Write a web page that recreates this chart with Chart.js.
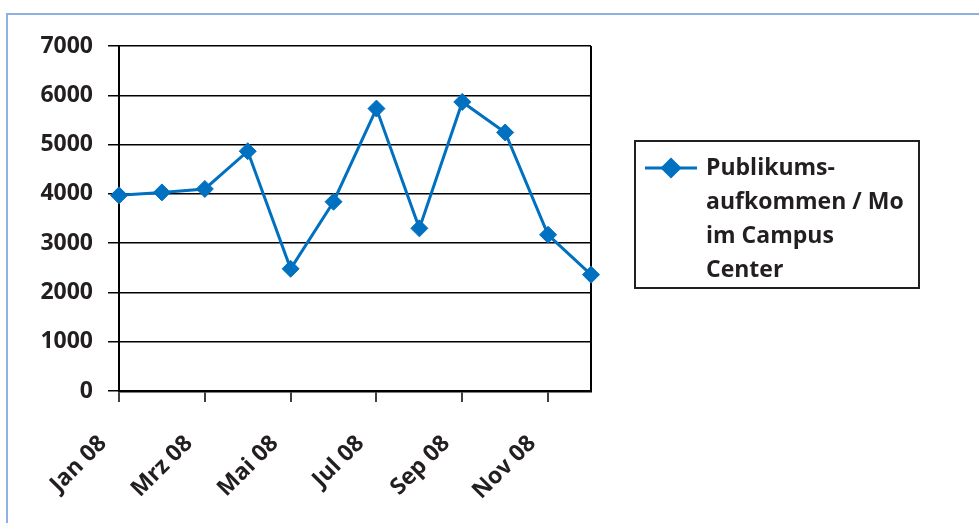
<!DOCTYPE html>
<html>
<head>
<meta charset="utf-8">
<script src="https://cdn.jsdelivr.net/npm/chart.js@4"></script>
<style>
  html, body { margin: 0; padding: 0; background: #fff; }
  #wrap { position: relative; width: 979px; height: 523px; overflow: hidden; }
  #frame { position: absolute; left: 6px; top: 13px; width: 990px; height: 540px;
           border-top: 2px solid #8db2e2; border-left: 2px solid #8db2e2; box-sizing: border-box; }
  canvas { position: absolute; left: 0; top: 0; }
</style>
</head>
<body>
<div id="wrap">
  <div id="frame"></div>
  <canvas id="chart" width="979" height="523"></canvas>
</div>
<script>
const months = ['Jan 08', 'Feb 08', 'Mrz 08', 'Apr 08', 'Mai 08', 'Jun 08',
                'Jul 08', 'Aug 08', 'Sep 08', 'Okt 08', 'Nov 08', 'Dez 08'];
const visitors = [3970, 4030, 4100, 4865, 2480, 3840, 5730, 3300, 5865, 5245, 3170, 2360];
const seriesLabel = ['Publikums-', 'aufkommen / Mo', 'im Campus', 'Center'];
const yTicks = { min: 0, max: 7000, step: 1000 };

const ink = '#231f20';
const blue = '#0070c0';
const fontFamily = '"Open Sans", sans-serif';

// legend box to the right of the plot, drawn by hand because the label wraps
const boxLegend = {
    id: 'boxLegend',
    afterDraw(chart) {
        const ctx = chart.ctx;
        const area = chart.chartArea;
        const ds = chart.data.datasets[0];
        const x = area.right + 44, y = 141, w = 284, h = 147;
        ctx.save();
        ctx.strokeStyle = ink;
        ctx.lineWidth = 2;
        ctx.strokeRect(x, y, w, h);
        // sample line + marker
        const my = y + 27;
        ctx.strokeStyle = ds.borderColor;
        ctx.lineWidth = 3;
        ctx.beginPath();
        ctx.moveTo(x + 10, my);
        ctx.lineTo(x + 62, my);
        ctx.stroke();
        Chart.helpers.drawPoint(ctx, { pointStyle: 'rectRot', radius: 8.5, borderWidth: 1 }, x + 36, my);
        ctx.fillStyle = ds.borderColor;
        ctx.fill();
        // text
        ctx.fillStyle = ink;
        ctx.font = 'bold 23px ' + fontFamily;
        ctx.textBaseline = 'middle';
        ds.label.forEach((line, i) => ctx.fillText(line, x + 71, my + i * 34));
        ctx.restore();
    }
};

document.fonts.load('bold 23px "Open Sans"').finally(() => {
    new Chart(document.getElementById('chart'), {
        type: 'line',
        data: {
            labels: months,
            datasets: [{
                label: seriesLabel,
                data: visitors,
                borderColor: blue,
                backgroundColor: blue,
                borderWidth: 3,
                pointStyle: 'rectRot',
                pointRadius: 8.5,
                pointBorderWidth: 1,
                pointBackgroundColor: blue,
                pointBorderColor: blue,
                tension: 0
            }]
        },
        options: {
            responsive: false,
            animation: false,
            layout: { padding: { top: 46, right: 388, left: 0, bottom: 0 } },
            plugins: { legend: { display: false }, tooltip: { enabled: false } },
            scales: {
                x: {
                    offset: false,
                    afterFit: s => { s.height = 132; },
                    border: { display: true, color: '#000', width: 2.5 },
                    grid: {
                        drawOnChartArea: true,
                        drawTicks: true,
                        tickLength: 11,
                        lineWidth: 2,
                        color: c => c.index === months.length - 1 ? '#000' : 'rgba(0,0,0,0)',
                        tickColor: c => (c.index % 2 === 0 && c.index < months.length - 1) ? '#000' : 'rgba(0,0,0,0)',
                        tickWidth: 1.5
                    },
                    ticks: {
                        autoSkip: false,
                        minRotation: 45,
                        maxRotation: 45,
                        padding: 28,
                        labelOffset: -16,
                        color: ink,
                        font: { family: fontFamily, size: 23, weight: 'bold' },
                        callback: (v, i) => i % 2 === 0 ? months[i] : ''
                    }
                },
                y: {
                    min: yTicks.min,
                    max: yTicks.max,
                    afterFit: s => { s.width = 119; },
                    border: { display: true, color: '#000', width: 2 },
                    grid: {
                        color: '#000',
                        lineWidth: 1.5,
                        tickLength: 11,
                        drawTicks: true
                    },
                    ticks: {
                        stepSize: yTicks.step,
                        padding: 15,
                        color: ink,
                        font: { family: fontFamily, size: 23, weight: 'bold' },
                        callback: v => String(v)
                    }
                }
            }
        },
        plugins: [boxLegend]
    });
});
</script>
</body>
</html>
